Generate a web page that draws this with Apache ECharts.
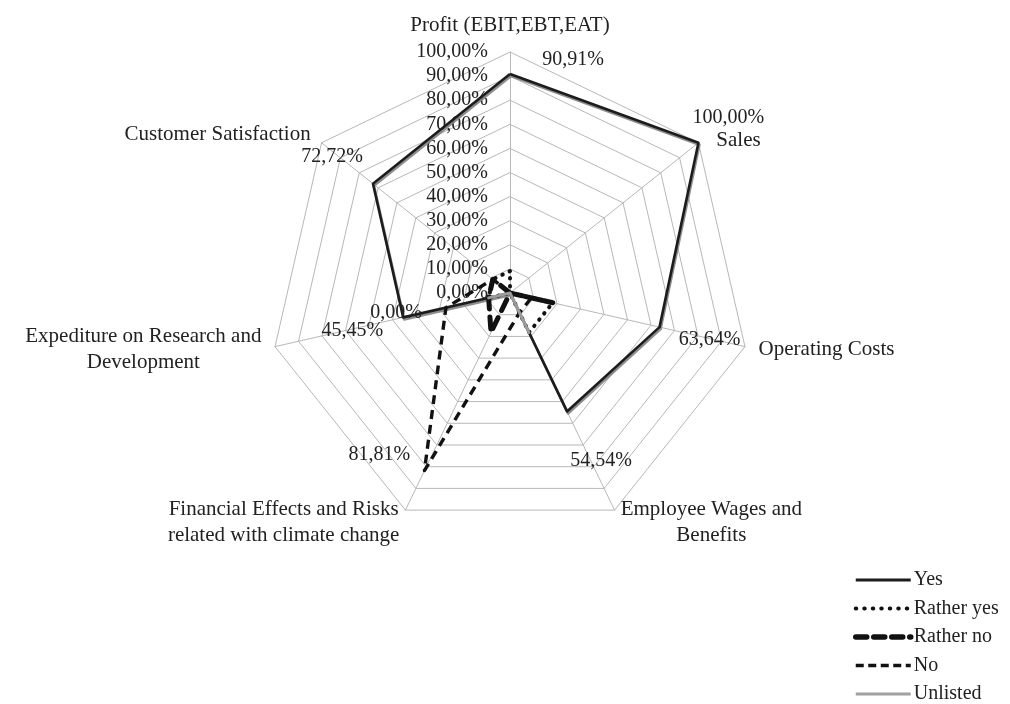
<!DOCTYPE html>
<html>
<head>
<meta charset="utf-8">
<script src="https://cdn.jsdelivr.net/npm/echarts@6/dist/echarts.min.js"></script>
<style>
  html, body { margin: 0; padding: 0; background: #ffffff; }
  #chart { width: 1010px; height: 704px; }
</style>
</head>
<body>
<div id="chart"></div>
<script>
// Categories in clockwise order, starting at the top axis
const categories = [
  'Profit (EBIT,EBT,EAT)',
  'Sales',
  'Operating Costs',
  'Employee Wages and Benefits',
  'Financial Effects and Risks related with climate change',
  'Expediture on Research and Development',
  'Customer Satisfaction'
];
// Line breaks used for the axis names
const categoryLines = [
  ['Profit (EBIT,EBT,EAT)'],
  ['Sales'],
  ['Operating Costs'],
  ['Employee Wages and', 'Benefits'],
  ['Financial Effects and Risks', 'related with climate change'],
  ['Expediture on Research and', 'Development'],
  ['Customer Satisfaction']
];

// Share of answers (%) per category
const yes       = [90.91, 100.00, 63.64, 54.54,  0.00, 45.45, 72.72];
const ratherYes = [ 9.09,   0.00, 18.18, 18.18,  0.00,  9.09,  9.09];
const ratherNo  = [ 0.00,   0.00, 18.18,  0.00, 18.18,  9.09,  9.09];
const no        = [ 0.00,   0.00,  9.09,  9.09, 81.81, 27.27,  9.09];
const unlisted  = [ 0.00,   0.00,  0.00, 18.18,  0.00,  9.09,  0.00];

const seriesNames = ['Yes', 'Rather yes', 'Rather no', 'No', 'Unlisted'];
const seriesValues = [yes, ratherYes, ratherNo, no, unlisted];

// Axis scale
const axisMin = 0;
const axisMax = 100;
const axisSplits = 10;

// Which values carry a data label, and where the label sits relative to its point
const labelledDims = { 'Yes': [0, 1, 2, 3, 4, 5, 6], 'No': [4] };
const labelShift = {
  'Yes': [[63, -14], [30, -25], [50, 13], [34, 49], [-114, 20], [-51, 13], [-41, -27]],
  'No':  [null, null, null, null, [-45, -16], null, null]
};

const SERIF = '"Liberation Serif", "Times New Roman", serif';
const INK = '#222222';

const pct = v => v.toFixed(2).replace('.', ',') + '%';

// ECharts lays radar indicators counter-clockwise; map to clockwise order
const order = [0, 6, 5, 4, 3, 2, 1];
const toEc = arr => order.map(d => arr[d]);

const lineStyles = {
  'Yes':        { color: '#1c1c1c', width: 2.6, type: 'solid',
                  shadowColor: 'rgba(130,130,130,0.9)', shadowOffsetY: 2, shadowOffsetX: 1 },
  'Rather yes': { color: '#111111', width: 4, type: [0.5, 7.5], cap: 'round' },
  'Rather no':  { color: '#111111', width: 5, type: [12, 8], cap: 'round' },
  'No':         { color: '#111111', width: 3.4, type: [9, 6] },
  'Unlisted':   { color: '#9b9b9b', width: 3, type: 'solid' }
};

const legendStyles = {
  'Yes':        { borderColor: '#1c1c1c', borderWidth: 3, borderType: 'solid' },
  'Rather yes': { borderColor: '#111111', borderWidth: 4, borderType: [0.5, 8], borderCap: 'round' },
  'Rather no':  { borderColor: '#111111', borderWidth: 5.5, borderType: [11, 7], borderCap: 'round' },
  'No':         { borderColor: '#111111', borderWidth: 3.5, borderType: [8, 4.5] },
  'Unlisted':   { borderColor: '#a0a0a0', borderWidth: 3, borderType: 'solid' }
};

const lineIcon = 'path://M0,0 M0,7 L60,7 M60,14';

const chart = echarts.init(document.getElementById('chart'), null, { renderer: 'canvas' });

const series = seriesNames.map((name, si) => {
  const values = seriesValues[si];
  const dims = labelledDims[name] || [];
  const shownTexts = dims.map(d => pct(values[d]));
  return {
    type: 'radar',
    name: name,
    symbol: 'circle',
    symbolSize: 0,
    itemStyle: { color: lineStyles[name].color },
    lineStyle: lineStyles[name],
    z: 2 + si,
    label: {
      show: dims.length > 0,
      position: 'inside',
      fontFamily: SERIF,
      fontSize: 20,
      color: INK,
      formatter: p => {
        const t = pct(Number(p.value));
        return shownTexts.indexOf(t) >= 0 ? t : '';
      }
    },
    labelLayout: p => {
      const d = values.findIndex(v => pct(v) === p.text);
      const s = d >= 0 && labelShift[name] ? labelShift[name][d] : null;
      return s ? { dx: s[0], dy: s[1] } : {};
    },
    data: [{ name: name, value: toEc(values) }]
  };
});

const option = {
  backgroundColor: '#ffffff',
  animation: false,
  legend: {
    orient: 'vertical',
    left: 853,
    top: 570,
    padding: 0,
    itemWidth: 55,
    itemHeight: 14,
    itemGap: 8.5,
    textStyle: { fontFamily: SERIF, fontSize: 20, color: INK, padding: [0, 0, 0, -2] },
    data: seriesNames.map(n => ({
      name: n,
      icon: lineIcon,
      itemStyle: Object.assign({ color: 'rgba(0,0,0,0)' }, legendStyles[n])
    }))
  },
  radar: {
    center: [510, 293],
    radius: 241,
    startAngle: 90,
    splitNumber: axisSplits,
    shape: 'polygon',
    nameGap: 14,
    axisName: {
      color: INK,
      fontFamily: SERIF,
      fontSize: 21,
      formatter: (name) => {
        const i = categories.indexOf(name);
        const lines = i >= 0 ? categoryLines[i] : [name];
        // the short right-hand name sits a little lower and further out
        const key = lines.length === 1 && lines[0].length < 6 ? 's' : 'c';
        return lines.map(l => '{' + key + '|' + l + '}').join('\n');
      },
      rich: {
        c: { align: 'center', fontFamily: SERIF, fontSize: 21, color: INK, lineHeight: 26 },
        s: { align: 'center', fontFamily: SERIF, fontSize: 21, color: INK, lineHeight: 26,
             padding: [12, 0, 0, 7] }
      }
    },
    indicator: order.map(d => {
      const ind = { name: categories[d], min: axisMin, max: axisMax };
      if (d === 0) {
        ind.axisLabel = {
          show: true,
          showMinLabel: true,
          showMaxLabel: true,
          fontFamily: SERIF,
          fontSize: 20,
          color: INK,
          margin: 22,
          formatter: v => pct(v)
        };
      }
      return ind;
    }),
    axisLine: { lineStyle: { color: '#b8b8b8', width: 1 } },
    splitLine: { lineStyle: { color: '#b8b8b8', width: 1 } },
    splitArea: { show: false },
    axisTick: { show: false },
    axisLabel: { show: false }
  },
  series: series
};

chart.setOption(option);
</script>
</body>
</html>
